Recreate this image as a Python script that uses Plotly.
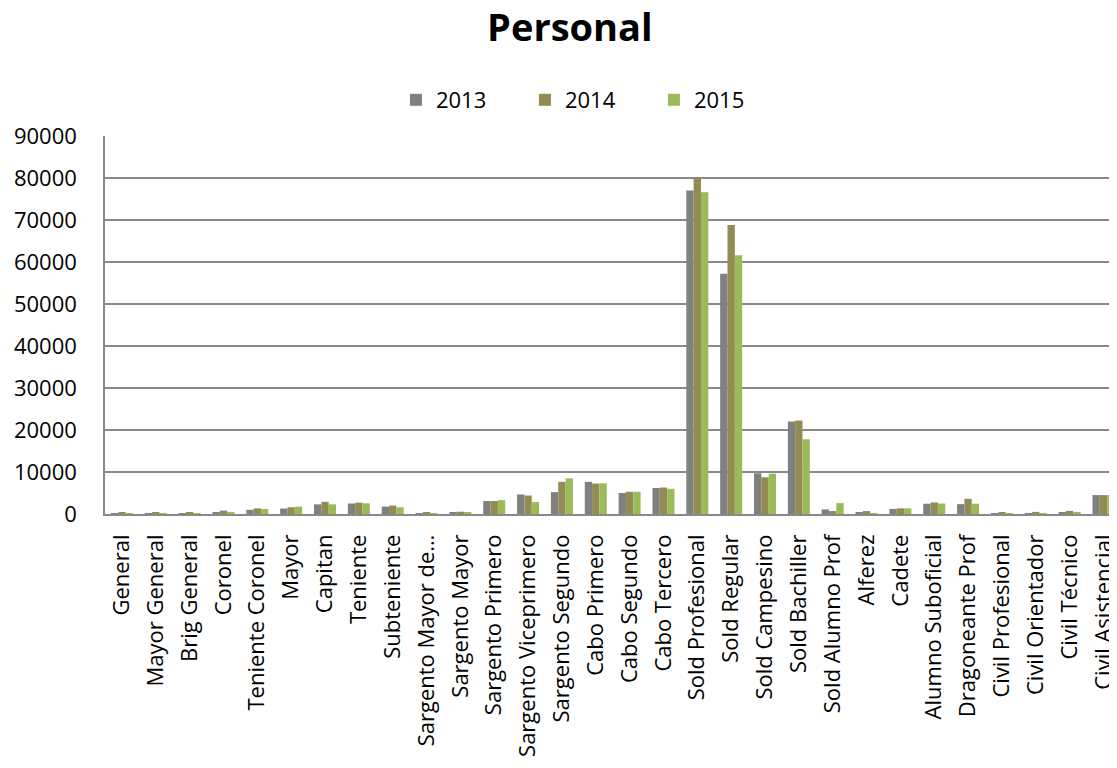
import plotly.graph_objects as go

categories = ["General", "Mayor General", "Brig General", "Coronel", "Teniente Coronel", "Mayor",
              "Capitan", "Teniente", "Subteniente", "Sargento Mayor de…", "Sargento Mayor",
              "Sargento Primero", "Sargento Viceprimero", "Sargento Segundo", "Cabo Primero",
              "Cabo Segundo", "Cabo Tercero", "Sold Profesional", "Sold Regular", "Sold Campesino",
              "Sold Bachiller", "Sold Alumno Prof", "Alferez", "Cadete", "Alumno Suboficial",
              "Dragoneante Prof", "Civil Profesional", "Civil Orientador", "Civil Técnico",
              "Civil Asistencial"]

v2013 = [150, 100, 100, 400, 1000, 1300, 2300, 2500, 1750, 100, 250,
         3100, 4650, 5200, 7650, 5000, 6200, 77050, 57200, 9700,
         22000, 1100, 400, 1200, 2450, 2350, 50, 100, 450, 4500]
v2014 = [300, 300, 300, 800, 1350, 1600, 2900, 2700, 2000, 300, 550,
         3100, 4400, 7650, 7250, 5300, 6300, 79800, 68800, 8750,
         22250, 700, 700, 1350, 2750, 3600, 300, 500, 750, 4500]
v2015 = [150, 100, 100, 500, 1200, 1750, 2300, 2550, 1600, 100, 250,
         3300, 2850, 8500, 7300, 5300, 6000, 76600, 61600, 9600,
         17800, 2600, 150, 1350, 2500, 2450, 50, 200, 500, 4500]

years = ["2013", "2014", "2015"]
colors = ["#808080", "#948A54", "#9BBB59"]

fig = go.Figure()
for name, vals, col in zip(years, [v2013, v2014, v2015], colors):
    fig.add_trace(go.Bar(x=categories, y=vals, name=name, marker=dict(color=col, line=dict(width=0))))

font_family = "Open Sans, sans-serif"
fig.update_layout(
    width=1117, height=768,
    paper_bgcolor="white", plot_bgcolor="white",
    margin=dict(l=97, r=8, t=128, b=262, autoexpand=False),
    barmode="group", bargap=0.35, bargroupgap=0,
    title=dict(text="<b>Personal</b>", x=0.503, xanchor="center", y=1 - 6 / 768, yanchor="top",
               font=dict(family=font_family, size=38, color="black")),
    legend=dict(orientation="h", x=0.2875, xanchor="left", yref="container",
                y=1 - 92 / 768, yanchor="middle",
                font=dict(family=font_family, size=22, color="black"),
                entrywidth=84, entrywidthmode="pixels", itemwidth=30, traceorder="normal"),
    font=dict(family=font_family, size=22, color="black"),
    showlegend=True,
)
fig.update_yaxes(range=[0, 90000], dtick=10000, showgrid=True, gridcolor="#898989", gridwidth=1.5,
                 showline=True, linecolor="#898989", linewidth=1.5, ticks="",
                 ticklabelstandoff=22, tickformat="d", automargin=False,
                 tickfont=dict(family=font_family, size=22, color="black"), zeroline=False)
fig.update_xaxes(range=[-0.5, 29.4], showline=True, linecolor="#898989", linewidth=1.5, tickangle=-90,
                 tickfont=dict(family=font_family, size=22, color="black"), ticks="",
                 ticklabelstandoff=10, automargin=False)

fig.write_html("out.html")
